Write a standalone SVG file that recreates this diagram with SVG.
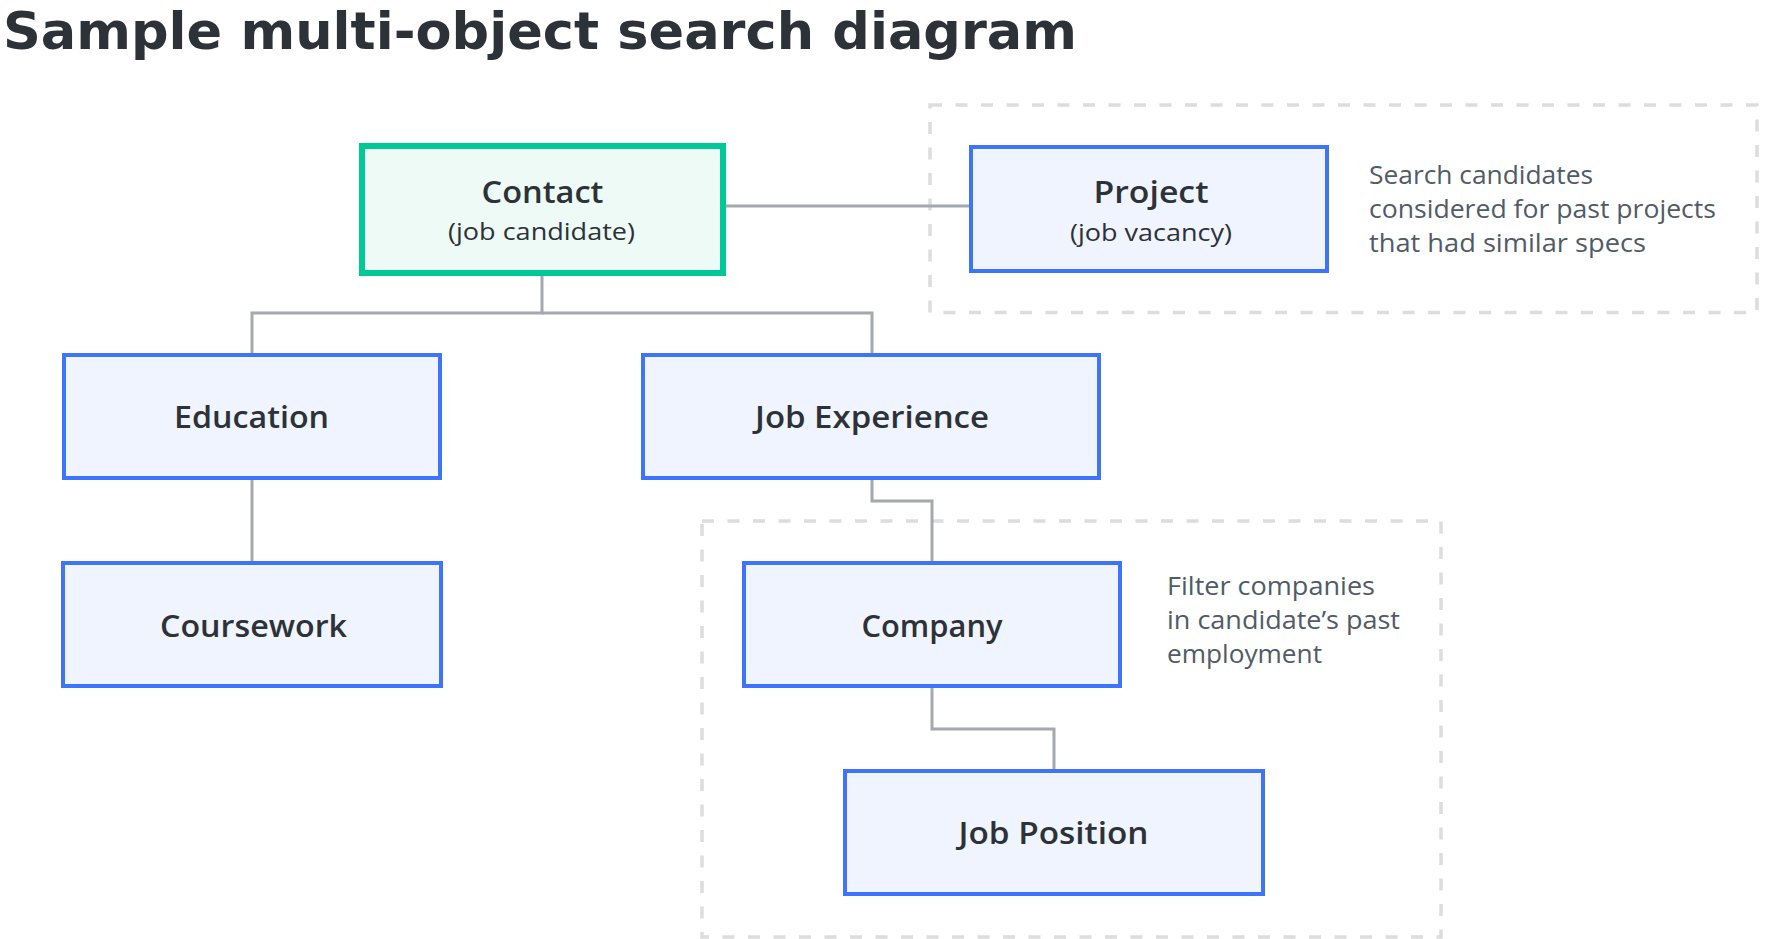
<svg xmlns="http://www.w3.org/2000/svg" width="1770" height="939" viewBox="0 0 1770 939">
<style>
.bg{fill:#ffffff}
.node{fill:#eff4fe;stroke:#3d74fb;stroke-width:4}
.main{fill:#eefaf5;stroke:#00c995;stroke-width:6}
.group{fill:none;stroke:#dddddd;stroke-width:3.5;stroke-dasharray:12 13.5}
.conn{fill:none;stroke:#a4a9ae;stroke-width:3}
.title{font-family:"DejaVu Sans","Open Sans",sans-serif;font-weight:700;font-size:52px;fill:#2c3238}
.lbl{font-family:"Open Sans","Noto Sans",sans-serif;font-weight:600;font-size:30px;fill:#2c3238;text-anchor:middle}
.sub{font-family:"Open Sans","Noto Sans",sans-serif;font-weight:400;font-size:24px;fill:#2c3238;text-anchor:middle}
.note{font-family:"Open Sans","Noto Sans",sans-serif;font-weight:400;font-size:25px;fill:#515b67}
</style>
<rect class="bg" x="0" y="0" width="1770" height="939"/>
<text class="title" x="3" y="49" textLength="1074" lengthAdjust="spacingAndGlyphs">Sample multi-object search diagram</text>

<g id="group-project">
<rect class="group" x="930" y="105" width="827" height="207.5"/>
<text class="note" x="1369" y="184" textLength="224" lengthAdjust="spacingAndGlyphs">Search candidates</text>
<text class="note" x="1369" y="218" textLength="347" lengthAdjust="spacingAndGlyphs">considered for past projects</text>
<text class="note" x="1369" y="252" textLength="277" lengthAdjust="spacingAndGlyphs">that had similar specs</text>
</g>
<g id="group-company">
<rect class="group" x="702" y="521" width="739" height="416"/>
<text class="note" x="1167" y="595" textLength="208" lengthAdjust="spacingAndGlyphs">Filter companies</text>
<text class="note" x="1167" y="629" textLength="233" lengthAdjust="spacingAndGlyphs">in candidate’s past</text>
<text class="note" x="1167" y="663" textLength="155" lengthAdjust="spacingAndGlyphs">employment</text>
</g>

<g id="connectors">
<path class="conn" d="M726 206 H969"/>
<path class="conn" d="M542 276 V313 H252 V353"/>
<path class="conn" d="M542 313 H872 V353"/>
<path class="conn" d="M252 480 V561"/>
<path class="conn" d="M872 480 V501 H932 V561"/>
<path class="conn" d="M932 688 V729 H1054 V769"/>
</g>

<g id="node-contact">
<rect class="main" x="362" y="146" width="361" height="127"/>
<text class="lbl" x="542.5" y="203" font-weight="700" textLength="122" lengthAdjust="spacingAndGlyphs">Contact</text>
<text class="sub" x="541.5" y="240" textLength="187" lengthAdjust="spacingAndGlyphs">(job candidate)</text>
</g>
<g id="node-project">
<rect class="node" x="971" y="147" width="356" height="124"/>
<text class="lbl" x="1151" y="203" font-weight="700" textLength="115" lengthAdjust="spacingAndGlyphs">Project</text>
<text class="sub" x="1151" y="241" textLength="162" lengthAdjust="spacingAndGlyphs">(job vacancy)</text>
</g>
<g id="node-education">
<rect class="node" x="64" y="355" width="376" height="123"/>
<text class="lbl" x="251.5" y="428" textLength="155" lengthAdjust="spacingAndGlyphs">Education</text>
</g>
<g id="node-job-experience">
<rect class="node" x="643" y="355" width="456" height="123"/>
<text class="lbl" x="872" y="428" textLength="234" lengthAdjust="spacingAndGlyphs">Job Experience</text>
</g>
<g id="node-coursework">
<rect class="node" x="63" y="563" width="378" height="123"/>
<text class="lbl" x="253.5" y="636.5" textLength="187" lengthAdjust="spacingAndGlyphs">Coursework</text>
</g>
<g id="node-company">
<rect class="node" x="744" y="563" width="376" height="123"/>
<text class="lbl" x="932" y="636.5" textLength="141" lengthAdjust="spacingAndGlyphs">Company</text>
</g>
<g id="node-job-position">
<rect class="node" x="845" y="771" width="418" height="123"/>
<text class="lbl" x="1053.5" y="844" textLength="190" lengthAdjust="spacingAndGlyphs">Job Position</text>
</g>
</svg>
